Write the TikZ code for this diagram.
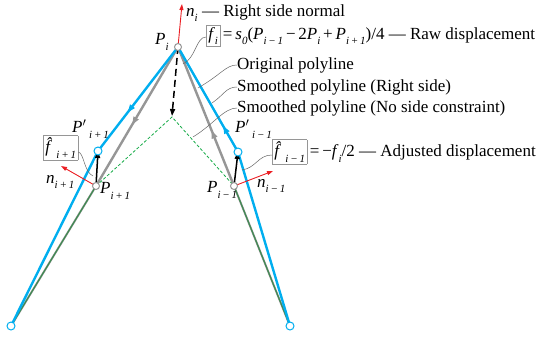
\documentclass[tikz,border=0pt]{standalone}
\usepackage{fontspec}
\setmainfont{Liberation Serif}
\usetikzlibrary{arrows.meta,decorations.markings}
\definecolor{cblue}{RGB}{0,174,239}
\definecolor{cgray}{RGB}{150,150,150}
\definecolor{cred}{RGB}{235,30,35}
\definecolor{cgreen}{RGB}{20,170,70}
\definecolor{cdgreen}{RGB}{60,140,80}
\newcommand\isub[1]{\raisebox{-0.32em}{\fontsize{11}{11}\selectfont\itshape #1}}
\newcommand\boxit[1]{{\setlength\fboxsep{1.5pt}\setlength\fboxrule{0.6pt}\fcolorbox{cgray}{white}{#1}}}
\begin{document}
\begin{tikzpicture}[x=1pt,y=-1pt,
  lbl/.style={inner sep=0pt,font=\fontsize{17}{20}\selectfont,anchor=west},
  bline/.style={draw=cblue,line width=2.4pt},
  gline/.style={draw=cgray,line width=2.4pt},
  midarrow/.style={postaction={decorate,decoration={markings,mark=at position #1 with {\arrow{Triangle[length=8pt,width=5.5pt]}}}}},
  vec/.style={draw=black,line width=1.5pt,-{Triangle[length=7pt,width=5pt]}},
  nrm/.style={draw=cred,line width=0.9pt,-{Triangle[length=6pt,width=4pt]}},
  leader/.style={draw=black!60,line width=0.5pt},
  bpt/.style={circle,draw=cblue,fill=white,line width=1pt,inner sep=0pt,minimum size=8pt},
  gpt/.style={circle,draw=cgray,fill=white,line width=1pt,inner sep=0pt,minimum size=7pt}]
\useasboundingbox (0,0) rectangle (536,338);
% key points
\coordinate (Pi) at (178,47);
\coordinate (Pip) at (96,186);
\coordinate (Pim) at (234,186);
\coordinate (Qip) at (98,151);
\coordinate (Qim) at (238,152);
\coordinate (A) at (172,117);
\coordinate (L) at (11,326);
\coordinate (R) at (290,326);
\coordinate (Ni) at (182,4);
\coordinate (Nip) at (61,166);
\coordinate (Nim) at (273,171);
\coordinate (Af) at (172,116);
% original polyline (gray)
\draw[gline,midarrow=0.56] (Pi) -- (Pip);
\draw[gline,midarrow=0.40] (Pim) -- (Pi);
\draw[cgray,line width=2pt] (L) -- (Pip);
\draw[cgray,line width=2pt] (Pim) -- (R);
% smoothed no side constraint
\draw[cdgreen,line width=1.1pt] (L) -- (Pip);
\draw[cdgreen,line width=1.1pt] (Pim) -- (R);
\draw[cgreen,line width=0.8pt,dash pattern=on 3pt off 2pt] (Pip) -- (A) -- (Pim);
% smoothed right side (blue)
\draw[bline] (L) -- (Qip);
\draw[bline,midarrow=0.63] (Pi) -- (Qip);
\draw[bline,midarrow=0.25] (Qim) -- (Pi);
\draw[bline] (Qim) -- (R);
% displacement vectors
\draw[vec,dash pattern=on 7pt off 4pt] (Pi) -- (Af);
\draw[vec] (Pip) -- (Qip);
\draw[vec] (Pim) -- (Qim);
% normals
\draw[nrm] (Pi) -- (Ni);
\draw[nrm] (Pip) -- (Nip);
\draw[nrm] (Pim) -- (Nim);
% points
\node[gpt] (nPi) at (Pi) {};
\node[gpt] (nPip) at (Pip) {};
\node[gpt] (nPim) at (Pim) {};
\node[bpt] (nQip) at (Qip) {};
\node[bpt] (nQim) at (Qim) {};
\node[bpt] (nL) at (L) {};
\node[bpt] (nR) at (R) {};
% labels
\node[lbl] (tni) at (186,13) {\textit{n}\isub{i} — Right side normal};
\node[lbl] (tpi) at (155,42) {\textit{P}\isub{i}};
\node[lbl] (traw) at (206,36) {\boxit{\textit{f}\isub{i}}\,=\,\textit{s}\isub{0}(\textit{P}\isub{i\,−\,1}\,−\,2\textit{P}\isub{i}\,+\,\textit{P}\isub{i\,+\,1})/4 — Raw displacement};
\node[lbl] (torig) at (237,65) {Original polyline};
\node[lbl] (tright) at (237,87) {Smoothed polyline (Right side)};
\node[lbl] (tnone) at (237,108) {Smoothed polyline (No side constraint)};
\node[lbl] (tqip) at (72,129) {\textit{P}$'$\,\isub{i\,+\,1}};
\node[lbl] (tpip) at (100,191) {\textit{P}\isub{i\,+\,1}};
\node[lbl] (tnip) at (46,182) {\textit{n}\isub{i\,+\,1}};
\node[lbl] (tqim) at (235,129) {\textit{P}$'$\,\isub{i\,−\,1}};
\node[lbl] (tpim) at (207,190) {\textit{P}\isub{i\,−\,1}};
\node[lbl] (tnim) at (257,186) {\textit{n}\isub{i\,−\,1}};
\node[lbl] (tfip) at (43,148) {\boxit{\textit{\^f}\isub{i\,+\,1}}};
\node[lbl] (tadj) at (272,152) {\boxit{\textit{\^f}\isub{i\,−\,1}}\,=\,−\textit{f}\isub{i}/2 — Adjusted displacement};
% leaders
\draw[leader] (traw.west) ++(0,1) .. controls (196,37) and (196,58) .. (183,64);
\draw[leader] (torig.west) .. controls (226,65) and (222,74) .. (198,88);
\draw[leader] (tright.west) .. controls (226,87) and (224,95) .. (212,103);
\draw[leader] (tnone.west) .. controls (224,108) and (214,124) .. (193,137);
\draw[leader] (tfip.east) ++(0,4) .. controls (84,153) and (84,172) .. (93,176);
\draw[leader] (tadj.west) ++(0,3) .. controls (258,155) and (256,168) .. (242,170);
\end{tikzpicture}
\end{document}
